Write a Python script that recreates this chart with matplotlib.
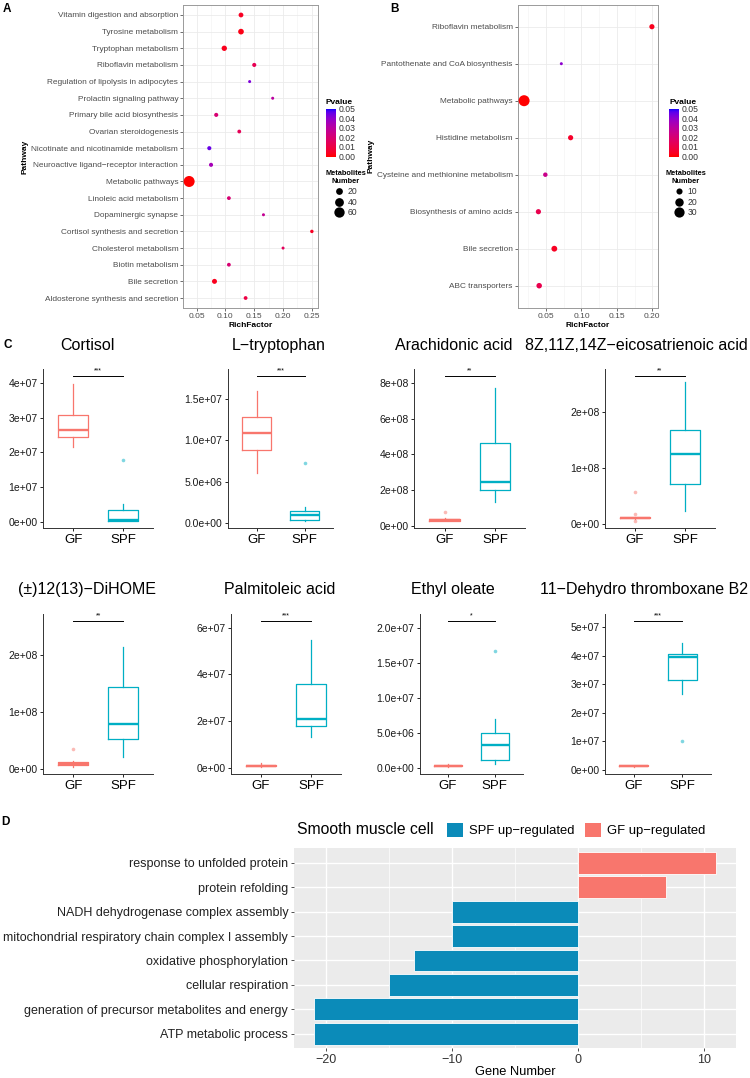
import numpy as np
import matplotlib
matplotlib.use('Agg')
import matplotlib.pyplot as plt
from matplotlib.colors import LinearSegmentedColormap, Normalize
from matplotlib.cm import ScalarMappable
from matplotlib.patches import Patch
from matplotlib.lines import Line2D
from matplotlib.ticker import MultipleLocator

plt.rcParams['font.family'] = ['Liberation Sans', 'DejaVu Sans']

# ---------------- data ----------------
# Panel A: KEGG enrichment (top to bottom)
a_pathways = ['Vitamin digestion and absorption', 'Tyrosine metabolism', 'Tryptophan metabolism',
              'Riboflavin metabolism', 'Regulation of lipolysis in adipocytes', 'Prolactin signaling pathway',
              'Primary bile acid biosynthesis', 'Ovarian steroidogenesis',
              'Nicotinate and nicotinamide metabolism', 'Neuroactive ligand\u2212receptor interaction',
              'Metabolic pathways', 'Linoleic acid metabolism', 'Dopaminergic synapse',
              'Cortisol synthesis and secretion', 'Cholesterol metabolism', 'Biotin metabolism',
              'Bile secretion', 'Aldosterone synthesis and secretion']
a_richfactor = [0.127, 0.127, 0.098, 0.150, 0.142, 0.182, 0.084, 0.124, 0.072, 0.075,
                0.037, 0.106, 0.166, 0.250, 0.200, 0.106, 0.081, 0.135]
a_pvalue = [0.004, 0.002, 0.003, 0.013, 0.042, 0.030, 0.020, 0.014, 0.045, 0.035,
            0.0, 0.020, 0.027, 0.004, 0.015, 0.020, 0.003, 0.010]
a_number = [7, 12, 10, 4, 1, 1, 4, 3, 4, 4, 70, 3, 1, 2, 1, 3, 8, 3]
a_size_breaks = [20, 40, 60]

# Panel B
b_pathways = ['Riboflavin metabolism', 'Pantothenate and CoA biosynthesis', 'Metabolic pathways',
              'Histidine metabolism', 'Cysteine and methionine metabolism', 'Biosynthesis of amino acids',
              'Bile secretion', 'ABC transporters']
b_richfactor = [0.1995, 0.0716, 0.019, 0.0847, 0.049, 0.0392, 0.0617, 0.0403]
b_pvalue = [0.003, 0.040, 0.0, 0.005, 0.025, 0.012, 0.004, 0.012]
b_number = [7, 2, 35, 7, 5, 7, 9, 8]
b_size_breaks = [10, 20, 30]

pvalue_ticks = [0.00, 0.01, 0.02, 0.03, 0.04, 0.05]

# Panel C: boxplots; five-number summaries [lower whisker, Q1, median, Q3, upper whisker]
groups = ['GF', 'SPF']
box_titles = ['Cortisol', 'L\u2212tryptophan', 'Arachidonic acid', '8Z,11Z,14Z\u2212eicosatrienoic acid',
              '(\u00b1)12(13)\u2212DiHOME', 'Palmitoleic acid', 'Ethyl oleate', '11\u2212Dehydro thromboxane B2']
gf_stats = [[2.14e7, 2.45e7, 2.63e7, 3.07e7, 3.96e7],
            [0.60e7, 0.88e7, 1.085e7, 1.288e7, 1.605e7],
            [0.25e8, 0.28e8, 0.32e8, 0.36e8, 0.40e8],
            [0.09e8, 0.105e8, 0.117e8, 0.125e8, 0.14e8],
            [0.04e8, 0.065e8, 0.095e8, 0.118e8, 0.14e8],
            [0.05e7, 0.08e7, 0.10e7, 0.13e7, 0.20e7],
            [0.015e7, 0.025e7, 0.03e7, 0.035e7, 0.06e7],
            [0.10e7, 0.12e7, 0.135e7, 0.15e7, 0.17e7]]
spf_stats = [[0.02e7, 0.03e7, 0.05e7, 0.34e7, 0.50e7],
             [0.02e7, 0.028e7, 0.098e7, 0.14e7, 0.19e7],
             [1.31e8, 2.0e8, 2.47e8, 4.65e8, 7.74e8],
             [0.236e8, 0.716e8, 1.25e8, 1.69e8, 2.53e8],
             [0.207e8, 0.52e8, 0.80e8, 1.45e8, 2.15e8],
             [1.30e7, 1.80e7, 2.08e7, 3.60e7, 5.49e7],
             [0.057e7, 0.108e7, 0.32e7, 0.496e7, 0.70e7],
             [2.67e7, 3.16e7, 3.95e7, 4.06e7, 4.45e7]]
gf_outliers = [[], [], [0.75e8], [0.57e8, 0.183e8, 0.059e8], [0.354e8], [], [], []]
spf_outliers = [[1.78e7], [0.73e7], [], [], [], [], [1.668e7], [1.0e7]]
sig_height = [4.19e7, 1.78e7, 8.38e8, 2.64e8, 2.6e8, 6.27e7, 2.09e7, 5.21e7]
sig_label = ['***', '***', '**', '**', '**', '***', '*', '***']
ytick_values = [[0, 1e7, 2e7, 3e7, 4e7],
                [0, 5e6, 1e7, 1.5e7],
                [0, 2e8, 4e8, 6e8, 8e8],
                [0, 1e8, 2e8],
                [0, 1e8, 2e8],
                [0, 2e7, 4e7, 6e7],
                [0, 5e6, 1e7, 1.5e7, 2e7],
                [0, 1e7, 2e7, 3e7, 4e7, 5e7]]
ytick_labels = [['0e+00', '1e+07', '2e+07', '3e+07', '4e+07'],
                ['0.0e+00', '5.0e+06', '1.0e+07', '1.5e+07'],
                ['0e+00', '2e+08', '4e+08', '6e+08', '8e+08'],
                ['0e+00', '1e+08', '2e+08'],
                ['0e+00', '1e+08', '2e+08'],
                ['0e+00', '2e+07', '4e+07', '6e+07'],
                ['0.0e+00', '5.0e+06', '1.0e+07', '1.5e+07', '2.0e+07'],
                ['0e+00', '1e+07', '2e+07', '3e+07', '4e+07', '5e+07']]

# Panel D
d_terms = ['response to unfolded protein', 'protein refolding', 'NADH dehydrogenase complex assembly',
           'mitochondrial respiratory chain complex I assembly', 'oxidative phosphorylation',
           'cellular respiration', 'generation of precursor metabolites and energy', 'ATP metabolic process']
d_values = [11, 7, -10, -10, -13, -15, -21, -21]
d_legend = ['SPF up\u2212regulated', 'GF up\u2212regulated']

# ---------------- style / layout ----------------
W, H = 750, 1078
fig = plt.figure(figsize=(W / 100, H / 100), dpi=100)
fig.patch.set_facecolor('white')


def add_ax(l, t, r, b):
    return fig.add_axes([l / W, 1 - b / H, (r - l) / W, (b - t) / H])


def fx(x):
    return x / W


def fy(y):
    return 1 - y / H


def lab_to_rgb(L, a, b):
    fyv = (L + 16) / 116
    fxv = fyv + a / 500
    fzv = fyv - b / 200

    def finv(t):
        return t ** 3 if t > 6 / 29 else 3 * (6 / 29) ** 2 * (t - 4 / 29)
    X = 0.95047 * finv(fxv)
    Y = finv(fyv)
    Z = 1.08883 * finv(fzv)
    M = np.array([[3.2406, -1.5372, -0.4986], [-0.9689, 1.8758, 0.0415], [0.0557, -0.2040, 1.0570]])
    rgb = M @ np.array([X, Y, Z])
    out = []
    for c in rgb:
        c = min(max(c, 0), 1)
        out.append(12.92 * c if c <= 0.0031308 else 1.055 * c ** (1 / 2.4) - 0.055)
    return out


red_lab = np.array([53.24, 80.09, 67.20])
blue_lab = np.array([32.30, 79.19, -107.86])
cmap = LinearSegmentedColormap.from_list(
    'pv', [lab_to_rgb(*(red_lab * (1 - t) + blue_lab * t)) for t in np.linspace(0, 1, 21)])
pnorm = Normalize(vmin=pvalue_ticks[0], vmax=pvalue_ticks[-1])

GRAY30 = '#4D4D4D'


def size_fn(n, nmin, nmax):
    """ggplot-like area scale -> marker diameter in points"""
    n = np.asarray(n, dtype=float)
    sz = 1 + 5 * (np.sqrt(n) - np.sqrt(nmin)) / (np.sqrt(nmax) - np.sqrt(nmin))
    d_px = 3 + (sz - 1) * 1.6
    return d_px * 0.72


def enrichment_panel(box, pathways, rf, pv, num, breaks, cb_box, leg_anchor):
    ax = add_ax(*box)
    y = np.arange(len(pathways))
    nmin, nmax = min(num), max(num)
    d = size_fn(num, nmin, nmax)
    ax.scatter(rf, y, s=d ** 2, c=pv, cmap=cmap, norm=pnorm, zorder=3, linewidths=0)
    lo, hi = min(rf), max(rf)
    pad = 0.05 * (hi - lo)
    ax.set_xlim(lo - pad, hi + pad)
    ax.set_ylim(len(pathways) - 0.4, -0.6)
    ax.set_yticks(y)
    ax.set_yticklabels(pathways, fontsize=5.95, color=GRAY30)
    ax.xaxis.set_major_locator(MultipleLocator(0.05))
    ax.xaxis.set_minor_locator(MultipleLocator(0.025))
    ax.xaxis.set_major_formatter(matplotlib.ticker.FormatStrFormatter('%.2f'))
    ax.tick_params(axis='x', which='major', labelsize=6, labelcolor=GRAY30, length=2, width=0.5,
                   color='#333333', pad=1.5)
    ax.tick_params(axis='x', which='minor', length=0)
    ax.tick_params(axis='y', labelsize=5.95, length=2, width=0.5, color='#333333', pad=1.5)
    ax.grid(True, which='major', color='#EBEBEB', lw=0.6, zorder=0)
    ax.grid(True, which='minor', axis='x', color='#F2F2F2', lw=0.4, zorder=0)
    ax.set_axisbelow(True)
    for sp in ax.spines.values():
        sp.set_color('#9A9A9A')
        sp.set_linewidth(0.7)
    ax.set_xlabel('RichFactor', fontsize=6, fontweight='bold', labelpad=1.5)
    ax.set_ylabel('Pathway', fontsize=6, fontweight='bold', labelpad=2)
    # colorbar
    cax = add_ax(*cb_box)
    cb = fig.colorbar(ScalarMappable(norm=pnorm, cmap=cmap), cax=cax)
    cb.set_ticks(pvalue_ticks)
    cb.set_ticklabels(['%.2f' % t for t in pvalue_ticks])
    cb.outline.set_visible(False)
    cax.tick_params(labelsize=6.2, length=0, pad=2, labelcolor='#333333')
    fig.text(fx(cb_box[0]), fy(cb_box[1] - 2), 'Pvalue', fontsize=6, fontweight='bold',
             ha='left', va='bottom')
    # size legend
    handles = [Line2D([], [], marker='o', ls='', color='black', markeredgewidth=0,
                      markersize=float(size_fn(b, nmin, nmax))) for b in breaks]
    leg = fig.legend(handles, [str(b) for b in breaks], loc='upper left',
                     bbox_to_anchor=(fx(leg_anchor[0]), fy(leg_anchor[1])), frameon=False,
                     fontsize=6.2, title='Metabolites\nNumber', handletextpad=0.5,
                     labelspacing=0.2, borderpad=0, handlelength=1.1, alignment='center',
                     title_fontproperties={'weight': 'bold', 'size': 5.3})
    leg.get_title().set_multialignment('center')
    for t in leg.get_texts():
        t.set_color('#333333')
    return ax


enrichment_panel((183, 5, 318, 308), a_pathways, a_richfactor, a_pvalue, a_number, a_size_breaks,
                 (326, 108.5, 336, 156.5), (321, 166))
enrichment_panel((517.7, 4.5, 658.3, 307.9), b_pathways, b_richfactor, b_pvalue, b_number, b_size_breaks,
                 (669, 108.5, 678.5, 156.5), (661, 166))

# ---------------- Panel C ----------------
GF_COL = '#F8766D'
SPF_COL = '#00AFC4'
box_layout = [(43.3, 369, 528.3, 50), (227.7, 369, 528.3, 48), (414.3, 369, 528.3, 50.5), (605, 369, 528.3, 50),
              (43.3, 614, 774, 50), (231, 614, 774, 50), (420, 614, 774, 46.7), (605, 614, 774, 48.3)]
title_pos = [(87, 345), (278.3, 345), (453.3, 345), (636.7, 345),
             (86.7, 589.3), (279.3, 589.3), (453.3, 589.3), (644.3, 589.3)]

for i in range(8):
    l, t, b, unit = box_layout[i]
    ax = add_ax(l, t, l + 2.2 * unit, b)
    for pos, st, outs, col in [(1, gf_stats[i], gf_outliers[i], GF_COL), (2, spf_stats[i], spf_outliers[i], SPF_COL)]:
        stats = [{'whislo': st[0], 'q1': st[1], 'med': st[2], 'q3': st[3], 'whishi': st[4], 'fliers': outs}]
        ax.bxp(stats, positions=[pos], widths=0.6, showcaps=False, patch_artist=False,
               boxprops=dict(color=col, lw=0.9), whiskerprops=dict(color=col, lw=0.9),
               medianprops=dict(color=col, lw=1.7),
               flierprops=dict(marker='o', markersize=2.6, markerfacecolor=col, markeredgecolor='none',
                               alpha=0.5))
    allv = gf_stats[i] + spf_stats[i] + gf_outliers[i] + spf_outliers[i]
    lo, hi = min(allv), sig_height[i]
    pad = 0.05 * (hi - lo)
    ax.set_ylim(lo - pad, hi + pad)
    ax.set_xlim(0.4, 2.6)
    ax.plot([1, 2], [sig_height[i]] * 2, color='black', lw=0.7)
    ax.text(1.5, sig_height[i] + 0.012 * (hi - lo), sig_label[i], ha='center', va='bottom', fontsize=5,
            clip_on=False)
    ax.set_xticks([1, 2])
    ax.set_xticklabels(groups, fontsize=9.5)
    ax.set_yticks(ytick_values[i])
    ax.set_yticklabels(ytick_labels[i], fontsize=7.5, color='#1A1A1A')
    ax.tick_params(length=2.5, width=0.6, pad=1.5)
    for s in ['top', 'right']:
        ax.spines[s].set_visible(False)
    for s in ['left', 'bottom']:
        ax.spines[s].set_linewidth(0.7)
        ax.spines[s].set_color('#333333')
    fig.text(fx(title_pos[i][0]), fy(title_pos[i][1]), box_titles[i], fontsize=11.5, ha='center', va='center')

# ---------------- Panel D ----------------
D_BLUE = '#0B8BB9'
D_RED = '#F8766D'
axd = add_ax(293.7, 848.3, 736.3, 1048.3)
yd = np.arange(len(d_terms))
cols = [D_RED if v > 0 else D_BLUE for v in d_values]
axd.barh(yd, d_values, height=0.9, color=cols, edgecolor='white', linewidth=0.6, zorder=3)
lo, hi = min(d_values), max(d_values)
pad = 0.05 * (hi - lo)
axd.set_xlim(lo - pad, hi + pad)
axd.set_ylim(len(d_terms) - 0.4, -0.6)
axd.set_facecolor('#EBEBEB')
axd.xaxis.set_major_locator(MultipleLocator(10))
axd.xaxis.set_minor_locator(MultipleLocator(5))
axd.grid(True, which='major', color='white', lw=1.0, zorder=0)
axd.grid(True, which='minor', axis='x', color='white', lw=0.5, zorder=0)
axd.set_axisbelow(True)
for sp in axd.spines.values():
    sp.set_visible(False)
axd.set_yticks(yd)
axd.set_yticklabels(d_terms, fontsize=9, color='#222222')
axd.tick_params(axis='both', which='major', length=2.5, width=0.6, color='#333333', pad=1.5)
axd.tick_params(axis='x', which='major', labelsize=9, labelcolor='#333333')
axd.tick_params(axis='x', which='minor', length=0)
axd.set_xlabel('Gene Number', fontsize=9.3, labelpad=0)

fig.text(fx(296.6), fy(829), 'Smooth muscle cell', fontsize=11.3, ha='left', va='center')
dh = [Patch(facecolor=D_BLUE, edgecolor='none'), Patch(facecolor=D_RED, edgecolor='none')]
fig.legend(dh, d_legend, loc='center left', bbox_to_anchor=(fx(447), fy(830)), ncol=2, frameon=False,
           fontsize=9.4, handlelength=1.2, handleheight=1.25, handletextpad=0.5, columnspacing=0.8,
           borderpad=0, borderaxespad=0)

# panel letters
for lab, x, y in [('A', 7, 9), ('B', 395, 9), ('C', 8, 345), ('D', 5, 822)]:
    fig.text(fx(x), fy(y), lab, fontsize=8.5, fontweight='bold', ha='center', va='center')

fig.savefig('out.png', dpi=100, facecolor='white')
